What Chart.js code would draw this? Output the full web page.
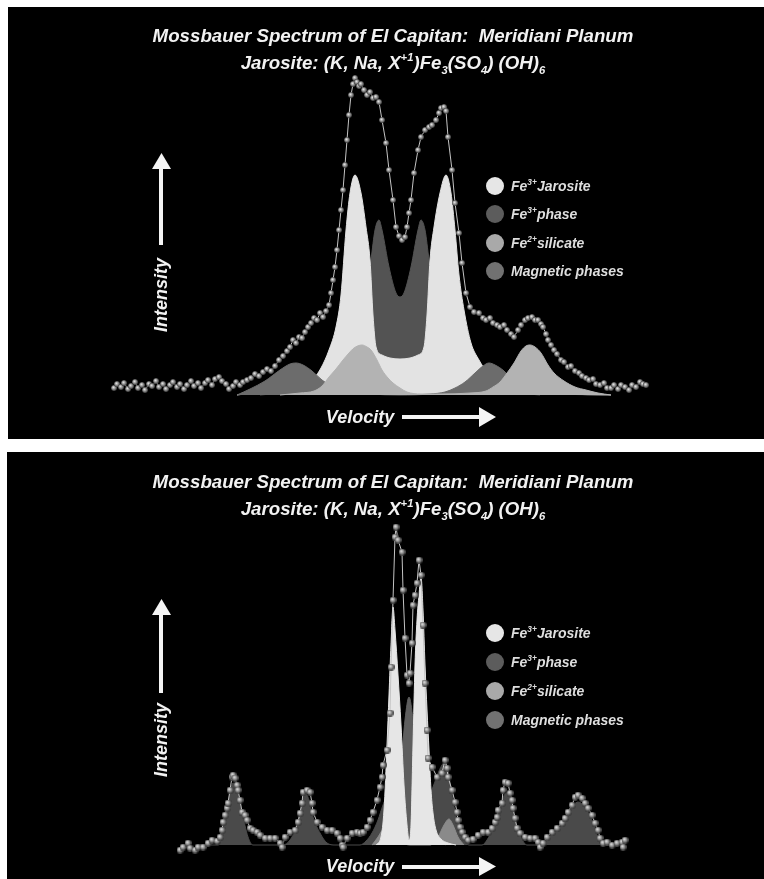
<!DOCTYPE html>
<html><head><meta charset="utf-8">
<script src="https://cdn.jsdelivr.net/npm/chart.js@4.4.1/dist/chart.umd.min.js"></script>
<style>
html,body{margin:0;padding:0;background:#fff;}
body{width:764px;height:879px;position:relative;overflow:hidden;font-family:"Liberation Sans",Arial,sans-serif;}
.panel{position:absolute;background:#000;}
.panel canvas{position:absolute;left:0;top:0;display:block;}
.txt{position:absolute;color:#f2f2f2;font-weight:bold;font-style:italic;white-space:nowrap;line-height:1;transform:translate(-50%,-50%);}
.title{font-size:18.7px;}
.axis{font-size:18px;}
.rot{transform:translate(-50%,-50%) rotate(-90deg);}
sup,sub{font-size:0.6em;line-height:0;position:relative;vertical-align:baseline;}
sup{top:-0.75em;}
sub{top:0.45em;}
.leg{position:absolute;color:#dedede;font-weight:bold;font-style:italic;font-size:14px;white-space:nowrap;line-height:1;transform:translateY(-50%);}
.leg sup{top:-0.7em;}
svg{position:absolute;left:0;top:0;}
</style></head><body>
<div class="panel" style="left:8px;top:7px;width:756px;height:432px"><canvas id="c1" width="756" height="432"></canvas></div>
<div class="panel" style="left:7px;top:452px;width:757px;height:427px"><canvas id="c2" width="757" height="427"></canvas></div>
<svg width="764" height="879" viewBox="0 0 764 879">
  <g fill="#f4f4f4">
    <rect x="159" y="168" width="4" height="77"/><polygon points="152,169 171,169 161.5,153"/>
    <rect x="402" y="415" width="78" height="4"/><polygon points="479,407 479,427 496,417"/>
    <rect x="159" y="614" width="4" height="79"/><polygon points="152,615 171,615 161.5,599"/>
    <rect x="402" y="865" width="78" height="4"/><polygon points="479,857 479,876 496,866.5"/>
  </g>
  <g>
    <circle cx="495" cy="186" r="9" fill="#e6e6e6"/>
    <circle cx="495" cy="214" r="9" fill="#5c5c5c"/>
    <circle cx="495" cy="243" r="9" fill="#a9a9a9"/>
    <circle cx="495" cy="271" r="9" fill="#717171"/>
    <circle cx="495" cy="633" r="9" fill="#e6e6e6"/>
    <circle cx="495" cy="662" r="9" fill="#5c5c5c"/>
    <circle cx="495" cy="691" r="9" fill="#a9a9a9"/>
    <circle cx="495" cy="720" r="9" fill="#717171"/>
  </g>
</svg>
<div class="txt title" style="left:393px;top:36px">Mossbauer Spectrum of El Capitan:&nbsp; Meridiani Planum</div>
<div class="txt title" style="left:393px;top:63px">Jarosite: (K, Na, X<sup>+1</sup>)Fe<sub>3</sub>(SO<sub>4</sub>) (OH)<sub>6</sub></div>
<div class="txt axis rot" style="left:161px;top:295px">Intensity</div>
<div class="txt axis" style="left:360px;top:417px">Velocity</div>
<div class="leg" style="left:511px;top:186px">Fe<sup>3+</sup>Jarosite</div>
<div class="leg" style="left:511px;top:214px">Fe<sup>3+</sup>phase</div>
<div class="leg" style="left:511px;top:243px">Fe<sup>2+</sup>silicate</div>
<div class="leg" style="left:511px;top:271px">Magnetic phases</div>

<div class="txt title" style="left:393px;top:482px">Mossbauer Spectrum of El Capitan:&nbsp; Meridiani Planum</div>
<div class="txt title" style="left:393px;top:509px">Jarosite: (K, Na, X<sup>+1</sup>)Fe<sub>3</sub>(SO<sub>4</sub>) (OH)<sub>6</sub></div>
<div class="txt axis rot" style="left:161px;top:740px">Intensity</div>
<div class="txt axis" style="left:360px;top:866px">Velocity</div>
<div class="leg" style="left:511px;top:633px">Fe<sup>3+</sup>Jarosite</div>
<div class="leg" style="left:511px;top:662px">Fe<sup>3+</sup>phase</div>
<div class="leg" style="left:511px;top:691px">Fe<sup>2+</sup>silicate</div>
<div class="leg" style="left:511px;top:720px">Magnetic phases</div>
<script>
// ---- Top spectrum (narrow velocity scan): channel vs. counts above baseline ----
const topVelocity = [
 14,17,21,24,28,31,35,38,42,45,
 49,52,56,59,63,66,70,73,77,80,
 84,87,91,94,98,101,105,108,112,115,
 119,122,126,129,133,136,140,143,147,151,
 155,159,163,167,171,175,179,183,187,190,
 193,196,199,202,205,208,211,214,217,220,
 223,226,229,231,233,235,237,239,241,243,
 245,247,249,251,253,255,257,259,261,264,
 267,270,273,276,279,282,286,289,293,296,
 299,302,305,307,309,311,314,318,321,325,
 329,332,336,339,341,344,346,348,352,355,
 359,362,366,370,374,379,383,386,390,393,
 397,400,404,407,411,414,418,421,425,428,
 432,435,438,441,443,446,448,451,454,457,
 461,464,468,471,475,479,482,486,489,493,
 496,500,504,507,511,514,518,521,525,529,
 532,536,540,543,546];
const topCounts = [
 7,11,8,12,6,9,13,7,10,5,
 11,9,14,8,11,6,10,13,8,11,
 6,10,14,9,12,7,12,15,10,16,
 18,14,11,6,9,13,10,13,15,17,
 21,19,23,26,24,29,35,39,44,48,
 55,52,58,57,63,68,72,77,75,82,
 78,84,90,102,115,128,145,165,185,205,
 230,255,280,300,311,317,313,309,311,305,
 300,303,297,298,293,275,252,225,195,168,
 159,155,158,168,182,195,222,245,258,265,
 268,270,275,282,287,288,284,258,225,192,
 162,132,102,88,83,82,77,75,77,72,
 70,68,70,65,61,58,65,70,75,77,
 78,75,75,71,68,61,55,50,45,41,
 35,33,28,29,24,22,19,17,15,16,
 11,10,12,7,7,10,6,10,8,5,
 10,8,13,11,10];

const topJarositeX = [137,160,180,200,214,221,229,236,241,246,250,255,261,266,270,273,276,282,290,300,310,318,324,327,330,334,340,346,351,355,359,364,371,379,386,393,405,421,441,465,511];
const topJarositeY = [0,3,6,10,17,27,45,68,100,165,202,220,202,168,135,80,48,40,37,36,37,40,48,80,135,168,202,220,202,165,120,85,52,35,24,16,10,6,3,1,0];
const topPhaseX = [160,190,220,240,255,265,271,275,279,282,289,296,300,304,311,318,321,325,329,335,345,360,380,410,440];
const topPhaseY = [0,3,10,25,50,90,135,165,175,165,128,102,98,102,128,165,175,165,135,90,50,25,10,3,0];
const topMagneticX = [137,150,165,180,190,196,203,212,222,235,250,270,300,330,345,355,365,375,383,389,395,404,412,420,435,460,511];
const topMagneticY = [0,6,14,25,31,32,30,24,15,7,3,1,0,1,3,7,13,22,29,32,30,24,15,8,3,1,0];
const topSilicateX = [180,200,214,222,229,236,243,249,254,262,267,271,277,282,288,293,300,307,321,340,370,386,393,400,407,414,421,426,430,435,441,448,454,464,475,486,498,511];
const topSilicateY = [0,2,4,9,18,26,35,42,47,50,48,45,35,25,17,12,7,3,1,1,2,4,8,13,22,32,44,49,50,48,42,30,22,14,8,5,2,0];

// ---- Bottom spectrum (wide velocity scan) ----
const botVelocity = [
 80,83,88,90,95,98,103,108,112,117,
 120,122,123,125,127,128,130,132,133,135,
 137,138,140,142,145,147,150,153,157,160,
 165,170,175,180,182,185,190,195,198,200,
 202,203,207,210,212,213,217,222,227,232,
 237,240,242,243,247,252,257,260,263,267,
 270,273,277,280,282,283,287,290,291,293,
 295,296,298,302,303,305,307,309,310,312,
 313,315,317,319,321,323,325,327,328,332,
 337,342,345,347,348,352,355,357,358,360,
 362,365,368,373,378,383,388,392,395,397,
 398,402,403,405,408,410,412,413,415,417,
 420,425,430,435,438,440,443,447,452,457,
 462,465,468,472,475,478,482,485,488,492,
 495,498,500,503,507,512,517,522,523,525];
const botCounts = [
 -5,-2,2,-3,-5,-2,-2,2,5,4,
 8,15,23,30,37,42,55,68,70,67,
 60,55,45,33,30,25,17,15,13,10,
 7,7,7,2,-2,8,13,15,23,32,
 42,53,55,53,42,33,23,18,15,15,
 12,7,0,-2,7,12,13,12,13,18,
 25,33,45,58,68,80,95,132,178,245,
 308,318,305,293,255,207,170,162,172,202,
 240,250,262,285,270,220,162,115,87,78,
 68,72,85,77,68,55,43,33,25,18,
 13,8,5,6,10,13,13,17,23,28,
 35,42,55,63,62,52,45,37,27,17,
 12,8,7,7,3,-2,2,8,13,17,
 22,27,33,40,48,50,47,42,37,30,
 22,15,7,2,3,0,2,3,-2,5];

const botMagneticX = [100,118,122,125,129,133,137,142,148,153,183,190,197,201,205,209,213,220,227,235,260,266,272,278,283,288,294,302,310,318,326,333,339,342,345,348,352,356,360,364,369,382,387,393,398,403,407,411,415,420,427,438,447,455,463,470,478,486,493,497,501,525];
const botMagneticY = [0,0,8,28,47,62,55,33,8,0,0,5,20,37,52,45,28,12,2,0,0,4,12,25,40,50,42,28,22,28,40,58,74,80,83,75,50,28,13,5,0,0,5,17,32,47,53,43,25,10,0,0,6,14,25,35,43,36,22,10,0,0];
const botPhaseX = [272,285,295,301,305,309,313,317,323,333,346];
const botPhaseY = [0,10,35,80,125,148,125,80,35,10,0];
const botSilicateX = [272,278,283,287,292,300,310,330,338,344,349,353,358,364];
const botSilicateY = [0,8,16,18,12,4,0,0,8,20,26,20,8,0];
const botJarositeX = [276,281,284,287,289,291,293,295,298,301,304,307,309,311,313,315,317,319,321,323,325,327,329,331,333,336,341,348,356];
const botJarositeY = [0,8,35,100,150,200,238,215,170,120,60,20,5,20,100,180,225,250,268,235,180,135,95,55,32,15,6,2,0];

function makeBead(d){
  const c = document.createElement('canvas'); c.width = d; c.height = d;
  const g = c.getContext('2d');
  const gr = g.createRadialGradient(d*0.38, d*0.36, 0, d*0.5, d*0.5, d*0.55);
  gr.addColorStop(0, '#eeeeee'); gr.addColorStop(0.45, '#9c9c9c'); gr.addColorStop(1, '#262626');
  g.fillStyle = gr; g.beginPath(); g.arc(d/2, d/2, d/2, 0, Math.PI*2); g.fill();
  return c;
}
function pts(xs, ys){ return xs.map((x,i)=>({x:x, y:ys[i]})); }
function area(label, xs, ys, color, order){
  return {label, data: pts(xs, ys), backgroundColor: color, borderColor: color, borderWidth: 1,
    fill: 'origin', pointRadius: 0, cubicInterpolationMode: 'monotone', order};
}
function observed(xs, ys, bead){
  return {label:'Observed', data: pts(xs, ys), borderColor:'#c4c4c4', borderWidth: 1, fill:false,
    tension: 0, pointStyle: bead, pointRadius: 3, order: 0, clip: false};
}
function makeChart(id, datasets, pad, ymax){
  new Chart(document.getElementById(id), {
    type: 'line',
    data: {datasets},
    options: {
      responsive: false, animation: false, devicePixelRatio: 1, events: [],
      layout: {padding: pad},
      scales: {
        x: {type:'linear', min:0, max:560, display:false},
        y: {min:-10, max: ymax, display:false}
      },
      plugins: {legend:{display:false}, tooltip:{enabled:false}, title:{display:false}}
    }
  });
}
makeChart('c1', [
  observed(topVelocity, topCounts, makeBead(6)),
  area('Fe2+ silicate', topSilicateX, topSilicateY, '#b3b3b3', 1),
  area('Magnetic phases', topMagneticX, topMagneticY, '#6c6c6c', 2),
  area('Fe3+ Jarosite', topJarositeX, topJarositeY, '#e3e3e3', 3),
  area('Fe3+ phase', topPhaseX, topPhaseY, '#535353', 4)
], {left:92, right:104, top:68, bottom:34}, 320);
makeChart('c2', [
  observed(botVelocity, botCounts, makeBead(7)),
  area('Fe3+ Jarosite', botJarositeX, botJarositeY, '#e6e6e6', 1),
  area('Fe2+ silicate', botSilicateX, botSilicateY, '#8a8a8a', 2),
  area('Fe3+ phase', botPhaseX, botPhaseY, '#5e5e5e', 3),
  area('Magnetic phases', botMagneticX, botMagneticY, '#4a4a4a', 4)
], {left:93, right:104, top:63, bottom:24}, 330);
</script>
</body></html>
